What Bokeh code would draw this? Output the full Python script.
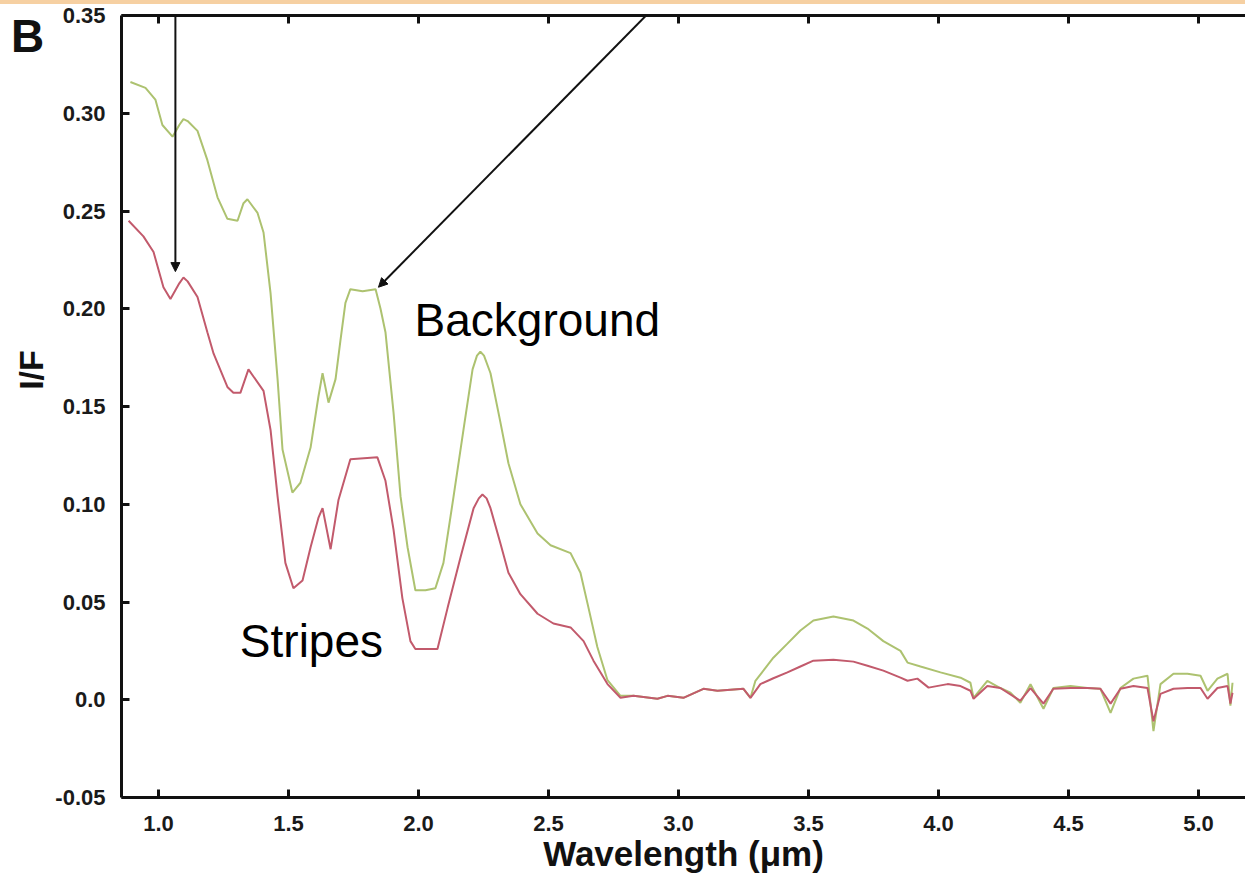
from bokeh.plotting import figure
from bokeh.models import (Label, Arrow, NormalHead, LinearAxis, FixedTicker,
                          Range1d, Div)
from bokeh.layouts import column
from bokeh.embed import file_html
from bokeh.resources import INLINE

# ---------------- data ----------------
wl_background = [0.892, 0.950, 0.988, 1.015, 1.054, 1.080, 1.096, 1.112, 1.150, 1.188,
                 1.227, 1.265, 1.304, 1.327, 1.342, 1.381, 1.404, 1.431, 1.458, 1.477,
                 1.515, 1.546, 1.585, 1.615, 1.631, 1.654, 1.681, 1.700, 1.719, 1.738,
                 1.785, 1.835, 1.854, 1.873, 1.904, 1.931, 1.958, 1.988, 2.027, 2.065,
                 2.096, 2.135, 2.173, 2.208, 2.225, 2.238, 2.252, 2.277, 2.315, 2.346,
                 2.392, 2.458, 2.508, 2.585, 2.623, 2.654, 2.688, 2.727, 2.777, 2.827,
                 2.919, 2.958, 3.019, 3.096, 3.150, 3.250, 3.277, 3.296, 3.365, 3.419,
                 3.469, 3.519, 3.596, 3.673, 3.727, 3.788, 3.854, 3.881, 3.931, 4.008,
                 4.085, 4.123, 4.135, 4.188, 4.238, 4.277, 4.315, 4.354, 4.404, 4.442,
                 4.508, 4.573, 4.623, 4.662, 4.700, 4.750, 4.804, 4.827, 4.854, 4.904,
                 4.958, 5.008, 5.035, 5.073, 5.112, 5.123, 5.131]
if_background = [0.316, 0.313, 0.307, 0.294, 0.288, 0.294, 0.297, 0.296, 0.291, 0.276,
                 0.257, 0.246, 0.245, 0.254, 0.256, 0.249, 0.239, 0.208, 0.164, 0.128,
                 0.106, 0.111, 0.129, 0.155, 0.167, 0.152, 0.164, 0.184, 0.203, 0.210,
                 0.209, 0.210, 0.200, 0.188, 0.147, 0.104, 0.078, 0.056, 0.056, 0.057,
                 0.070, 0.104, 0.138, 0.169, 0.176, 0.178, 0.176, 0.167, 0.142, 0.121,
                 0.100, 0.085, 0.079, 0.075, 0.065, 0.047, 0.027, 0.010, 0.002, 0.002,
                 0.0005, 0.002, 0.001, 0.0056, 0.0046, 0.0056, 0.001, 0.0097, 0.0215, 0.0287,
                 0.0354, 0.0405, 0.0426, 0.0405, 0.0364, 0.030, 0.025, 0.019, 0.017, 0.014,
                 0.0113, 0.0087, 0.001, 0.0097, 0.006, 0.0036, -0.0015, 0.008, -0.0046, 0.006,
                 0.007, 0.006, 0.0056, -0.0067, 0.006, 0.0108, 0.0123, -0.016, 0.008, 0.0133,
                 0.0133, 0.0123, 0.0046, 0.0108, 0.0133, -0.003, 0.0087]

wl_stripes = [0.885, 0.942, 0.981, 1.019, 1.046, 1.080, 1.096, 1.112, 1.150, 1.188,
              1.212, 1.265, 1.288, 1.315, 1.346, 1.404, 1.431, 1.458, 1.488, 1.519,
              1.554, 1.585, 1.615, 1.631, 1.662, 1.692, 1.738, 1.842, 1.873, 1.904,
              1.938, 1.969, 1.988, 2.073, 2.112, 2.162, 2.212, 2.232, 2.246, 2.262,
              2.277, 2.315, 2.346, 2.392, 2.458, 2.519, 2.585, 2.635, 2.673, 2.727,
              2.777, 2.827, 2.919, 2.958, 3.019, 3.096, 3.150, 3.250, 3.277, 3.315,
              3.365, 3.419, 3.469, 3.519, 3.596, 3.673, 3.727, 3.788, 3.854, 3.881,
              3.919, 3.962, 4.035, 4.085, 4.123, 4.135, 4.188, 4.238, 4.315, 4.354,
              4.404, 4.442, 4.508, 4.573, 4.623, 4.662, 4.700, 4.750, 4.804, 4.827,
              4.854, 4.904, 4.958, 5.008, 5.035, 5.073, 5.112, 5.123, 5.131]
if_stripes = [0.245, 0.237, 0.229, 0.211, 0.205, 0.213, 0.216, 0.214, 0.206, 0.188,
              0.177, 0.160, 0.157, 0.157, 0.169, 0.158, 0.138, 0.104, 0.070, 0.057,
              0.061, 0.078, 0.093, 0.098, 0.077, 0.102, 0.123, 0.124, 0.112, 0.087,
              0.052, 0.030, 0.026, 0.026, 0.047, 0.073, 0.098, 0.103, 0.105, 0.103,
              0.098, 0.080, 0.065, 0.054, 0.044, 0.039, 0.037, 0.030, 0.020, 0.008,
              0.001, 0.002, 0.0005, 0.002, 0.001, 0.0056, 0.0046, 0.0056, 0.001, 0.008,
              0.011, 0.014, 0.017, 0.020, 0.0205, 0.0195, 0.0174, 0.0149, 0.0113, 0.0097,
              0.0108, 0.0062, 0.008, 0.007, 0.0046, 0.0005, 0.007, 0.006, -0.0005, 0.006,
              -0.002, 0.0056, 0.006, 0.006, 0.0056, -0.002, 0.0056, 0.007, 0.006, -0.011,
              0.003, 0.0056, 0.006, 0.006, 0.0005, 0.006, 0.007, -0.002, 0.0036]

x_ticks = [1.0, 1.5, 2.0, 2.5, 3.0, 3.5, 4.0, 4.5, 5.0]
x_tick_labels = ["1.0", "1.5", "2.0", "2.5", "3.0", "3.5", "4.0", "4.5", "5.0"]
y_ticks = [-0.05, 0.0, 0.05, 0.10, 0.15, 0.20, 0.25, 0.30, 0.35]
y_tick_labels = ["-0.05", "0.0", "0.05", "0.10", "0.15", "0.20", "0.25", "0.30", "0.35"]

# annotation arrows: (x_start, y_start, x_end, y_end)
arrow_stripes = (1.065, 0.3575, 1.065, 0.219)
arrow_background = (2.931, 0.3575, 1.846, 0.211)

# ---------------- figure ----------------
FONT = "Liberation Sans"
BG_COLOR = "#adc270"
ST_COLOR = "#c25a6c"

p = figure(width=1245, height=876,
           x_range=Range1d(0.8577, 5.181), y_range=Range1d(-0.05, 0.35),
           output_backend="svg", toolbar_location=None,
           min_border_left=121, min_border_right=0,
           min_border_top=11, min_border_bottom=83)
p.outline_line_color = None
p.xgrid.visible = False
p.ygrid.visible = False
p.background_fill_color = "white"
p.border_fill_color = "white"

p.line(wl_background, if_background, line_color=BG_COLOR, line_width=2)
p.line(wl_stripes, if_stripes, line_color=ST_COLOR, line_width=2)

def style_axis(ax, labels=True):
    ax.axis_line_width = 3
    ax.axis_line_color = "#111111"
    ax.major_tick_in = 8
    ax.major_tick_out = 0
    ax.major_tick_line_width = 3
    ax.major_tick_line_color = "#111111"
    ax.minor_tick_line_color = None
    if labels:
        ax.major_label_text_font = FONT
        ax.major_label_text_font_style = "bold"
        ax.major_label_text_font_size = "22px"
        ax.major_label_text_color = "#1a1a1a"
        ax.major_label_standoff = 15

xa = p.xaxis[0]
xa.ticker = FixedTicker(ticks=x_ticks)
xa.major_label_overrides = {t: l for t, l in zip(x_ticks, x_tick_labels)}
style_axis(xa)
xa.major_label_standoff = 18
xa.axis_label = "Wavelength (μm)"
xa.axis_label_text_font = FONT
xa.axis_label_text_font_style = "bold"
xa.axis_label_text_font_size = "35px"
xa.axis_label_text_color = "#111111"
xa.axis_label_standoff = 0

ya = p.yaxis[0]
ya.ticker = FixedTicker(ticks=y_ticks)
ya.major_label_overrides = {t: l for t, l in zip(y_ticks, y_tick_labels)}
style_axis(ya)
ya.major_label_standoff = 16

top = LinearAxis(ticker=FixedTicker(ticks=x_ticks),
                 major_label_overrides={t: "" for t in x_ticks})
style_axis(top, labels=False)
top.major_label_text_font_size = "1px"
top.major_label_standoff = 0
p.add_layout(top, "above")

# curve names
p.add_layout(Label(x=1.985, y=0.194, text="Background", text_align="left",
                   text_baseline="alphabetic", text_font=FONT,
                   text_font_size="46px", text_color="black"))
p.add_layout(Label(x=1.313, y=0.030, text="Stripes", text_align="left",
                   text_baseline="alphabetic", text_font=FONT,
                   text_font_size="46px", text_color="black"))

for (xs, ys, xe, ye) in (arrow_stripes, arrow_background):
    p.add_layout(Arrow(end=NormalHead(size=9, fill_color="#111111", line_color="#111111"),
                       x_start=xs, y_start=ys, x_end=xe, y_end=ye,
                       line_color="#111111", line_width=2))

strip = Div(text="", width=1245, height=4, margin=0,
            styles={"background-color": "#f6d0a2"})

# panel letter, laid over the top-left corner of the page
panel_letter = Div(text="B", width=44, height=48, margin=0,
                   styles={"position": "absolute", "left": "11px", "top": "13px",
                           "font-family": "'Liberation Sans', Arial, sans-serif",
                           "font-weight": "bold", "font-size": "46px",
                           "line-height": "1", "color": "#111111", "z-index": "10"})

# y-axis title, rotated, placed above centre as in the reference
y_title = Div(text="I/F", width=60, height=40, margin=0,
              styles={"position": "absolute", "left": "1px", "top": "350px",
                      "font-family": "'Liberation Sans', Arial, sans-serif",
                      "font-weight": "bold", "font-size": "34px",
                      "line-height": "40px", "text-align": "center",
                      "transform": "rotate(-90deg)", "transform-origin": "50% 50%",
                      "color": "#111111", "z-index": "10"})

layout = column(strip, p, panel_letter, y_title, spacing=0)
open("out.html", "w").write(file_html(layout, INLINE))
